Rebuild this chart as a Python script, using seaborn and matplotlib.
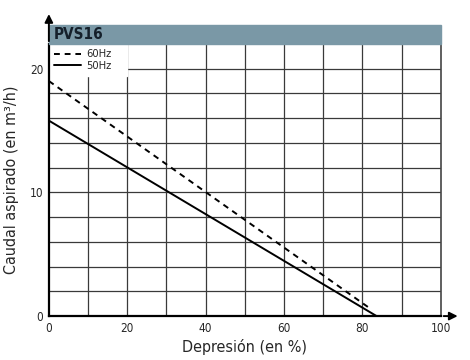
import matplotlib
matplotlib.use("Agg")
import matplotlib.pyplot as plt
import pandas as pd
import seaborn as sns

# curves
depresion = [0, 82]
caudal_60 = [19.0, 0.6]
depresion_50 = [0, 83.6]
caudal_50 = [15.8, 0.0]
x_ticks = [0, 20, 40, 60, 80, 100]
y_ticks = [0, 10, 20]

sns.set_style("white")
plt.rcParams['font.family'] = ['DejaVu Sans']
plt.rcParams['font.stretch'] = 'condensed'

df = pd.concat([
    pd.DataFrame({"x": depresion, "y": caudal_60, "serie": "60Hz"}),
    pd.DataFrame({"x": depresion_50, "y": caudal_50, "serie": "50Hz"}),
])

fig = plt.figure(figsize=(4.7, 3.6), dpi=100)
ax = fig.add_axes([0.104, 0.122, 0.834, 0.756])

# grid
for gx in range(10, 100, 10):
    ax.axvline(gx, color="#3a3a3a", lw=0.9, zorder=0)
for gy in range(2, 22, 2):
    ax.axhline(gy, color="#3a3a3a", lw=0.9, zorder=0)
# white box behind legend
ax.add_patch(plt.Rectangle((0, 19.4), 20, 2.6, color="white", zorder=1))

sns.lineplot(data=df, x="x", y="y", style="serie", ax=ax, color="black",
             lw=1.4, dashes={"60Hz": (3, 2.5), "50Hz": ""}, legend=True)

ax.set_xlim(0, 100)
ax.set_ylim(0, 22)
ax.set_xticks(x_ticks)
ax.set_yticks(y_ticks)
ax.tick_params(length=0, labelsize=8.5, pad=4)
ax.set_xlabel("Depresión (en %)", fontsize=11.5, labelpad=3, fontstretch="condensed")
ax.set_ylabel("Caudal aspirado (en m³/h)", fontsize=11.5, labelpad=8, fontstretch="condensed")

for s in ["left", "bottom"]:
    ax.spines[s].set_color("black")
    ax.spines[s].set_linewidth(1.6)
ax.spines["right"].set_color("#444444")
ax.spines["right"].set_linewidth(1.2)
ax.spines["top"].set_visible(False)

# header band
ax.add_patch(plt.Rectangle((0, 1.0), 1.0, 0.07, transform=ax.transAxes,
                           color="#7a98a6", clip_on=False, zorder=3))
ax.text(0.012, 1.035, "PVS16", transform=ax.transAxes, fontsize=11,
        fontweight="bold", color="#15202b", va="center", ha="left", zorder=4)

# axis arrows
ax.annotate("", xy=(0, 1.12), xytext=(0, 1.0), xycoords="axes fraction",
            arrowprops=dict(arrowstyle="-|>", color="black", lw=1.4,
                            mutation_scale=12))
ax.annotate("", xy=(1.05, 0), xytext=(1.0, 0), xycoords="axes fraction",
            arrowprops=dict(arrowstyle="-|>", color="black", lw=1.4,
                            mutation_scale=12))

leg = ax.legend(loc="upper left", frameon=False, fontsize=8, handlelength=2.4,
                borderpad=0.3, labelspacing=0.15, handletextpad=0.5,
                borderaxespad=0.2)

fig.savefig("out.png", dpi=100)
